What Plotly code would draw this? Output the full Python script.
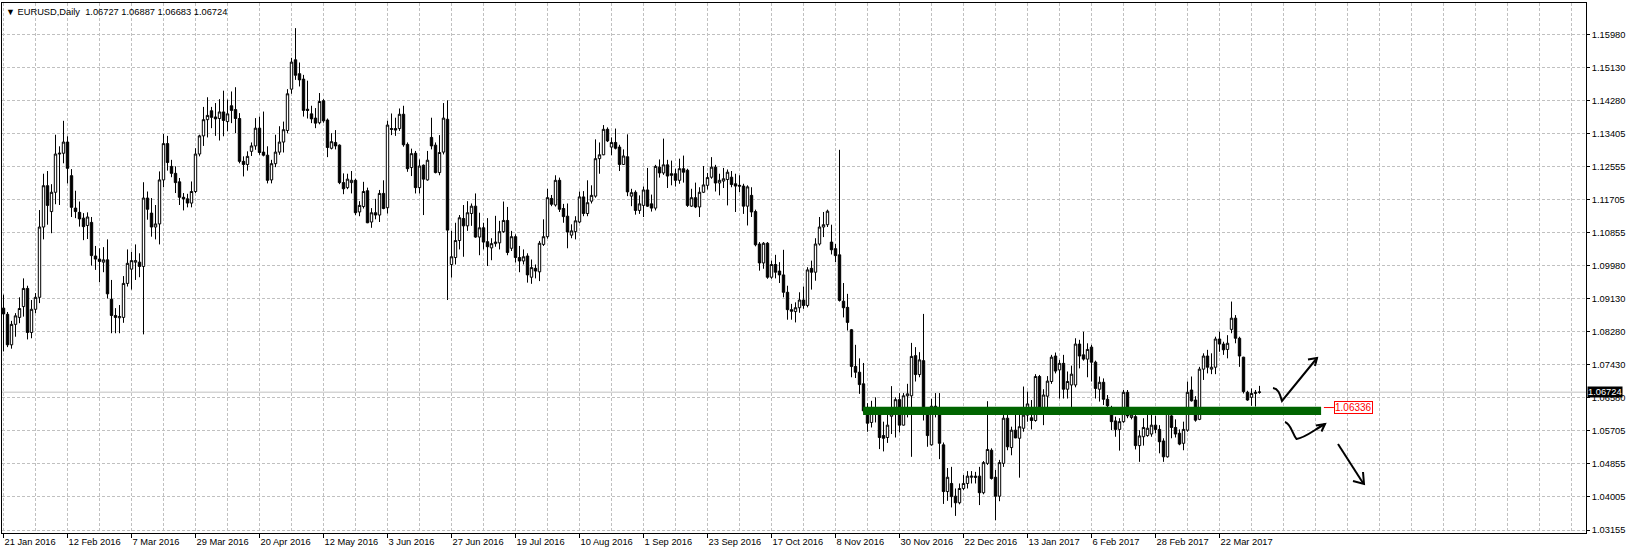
import plotly.graph_objects as go
import pandas as pd

# ---------------- data (EURUSD, Daily) ----------------
open_ = [
    1.0890, 1.0874, 1.0795, 1.0848, 1.0866, 1.0894, 1.0941, 1.0827, 1.0887, 1.0918,
    1.1100, 1.1207, 1.1140, 1.1190, 1.1289, 1.1291, 1.1320, 1.1233, 1.1149, 1.1138,
    1.1123, 1.1104, 1.1112, 1.1025, 1.1017, 1.1009, 1.1015, 1.0913, 1.0871, 1.0865,
    1.0866, 1.0954, 1.0991, 1.1009, 1.1009, 1.0998, 1.1175, 1.1136, 1.1100, 1.1108,
    1.1222, 1.1316, 1.1257, 1.1239, 1.1217, 1.1177, 1.1173, 1.1162, 1.1192, 1.1289,
    1.1336, 1.1378, 1.1401, 1.1385, 1.1381, 1.1398, 1.1373, 1.1414, 1.1404, 1.1381,
    1.1270, 1.1262, 1.1296, 1.1310, 1.1356, 1.1294, 1.1286, 1.1222, 1.1264, 1.1294,
    1.1320, 1.1350, 1.1457, 1.1533, 1.1497, 1.1483, 1.1405, 1.1393, 1.1382, 1.1370,
    1.1427, 1.1377, 1.1304, 1.1319, 1.1312, 1.1215, 1.1202, 1.1215, 1.1221, 1.1139,
    1.1153, 1.1194, 1.1113, 1.1137, 1.1131, 1.1187, 1.1150, 1.1355, 1.1355, 1.1355,
    1.1392, 1.1314, 1.1254, 1.1291, 1.1202, 1.1260, 1.1222, 1.1332, 1.1312, 1.1241,
    1.1294, 1.1379, 1.1003, 1.1021, 1.1065, 1.1122, 1.1103, 1.1135, 1.1154, 1.1074,
    1.1098, 1.1062, 1.1046, 1.1057, 1.1059, 1.1088, 1.1117, 1.1045, 1.1075, 1.1021,
    1.1012, 1.1025, 1.0970, 1.0993, 1.0984, 1.1055, 1.1075, 1.1174, 1.1157, 1.1221,
    1.1148, 1.1128, 1.1079, 1.1088, 1.1113, 1.1178, 1.1135, 1.1167, 1.1180, 1.1277,
    1.1287, 1.1353, 1.1307, 1.1319, 1.1307, 1.1262, 1.1282, 1.1180, 1.1190, 1.1143,
    1.1156, 1.1196, 1.1160, 1.1149, 1.1255, 1.1240, 1.1261, 1.1238, 1.1238, 1.1221,
    1.1251, 1.1247, 1.1154, 1.1176, 1.1152, 1.1190, 1.1208, 1.1229, 1.1255, 1.1214,
    1.1219, 1.1223, 1.1229, 1.1212, 1.1208, 1.1206, 1.1154, 1.1182, 1.1140, 1.1056,
    1.1007, 1.1058, 1.0970, 1.1003, 1.0986, 1.0976, 1.0931, 1.0886, 1.0881, 1.0891,
    1.0911, 1.0897, 1.0993, 1.0983, 1.1056, 1.1100, 1.1106, 1.1061, 1.1044, 1.1028,
    1.0908, 1.0892, 1.0834, 1.0739, 1.0724, 1.0694, 1.0629, 1.0594, 1.0629, 1.0629,
    1.0560, 1.0555, 1.0610, 1.0616, 1.0653, 1.0587, 1.0663, 1.0663, 1.0767, 1.0718,
    1.0754, 1.0616, 1.0536, 1.0636, 1.0629, 1.0536, 1.0415, 1.0436, 1.0403, 1.0386,
    1.0423, 1.0436, 1.0452, 1.0455, 1.0455, 1.0412, 1.0488, 1.0522, 1.0452, 1.0403,
    1.0488, 1.0605, 1.0529, 1.0574, 1.0553, 1.0579, 1.0613, 1.0606, 1.0599, 1.0713,
    1.0629, 1.0662, 1.0700, 1.0766, 1.0730, 1.0747, 1.0680, 1.0691, 1.0691, 1.0797,
    1.0769, 1.0758, 1.0789, 1.0750, 1.0680, 1.0698, 1.0654, 1.0630, 1.0598, 1.0576,
    1.0596, 1.0672, 1.0607, 1.0609, 1.0534, 1.0557, 1.0560, 1.0564, 1.0587, 1.0576,
    1.0546, 1.0505, 1.0611, 1.0581, 1.0566, 1.0540, 1.0574, 1.0678, 1.0652, 1.0602,
    1.0732, 1.0766, 1.0732, 1.0737, 1.0810, 1.0797, 1.0783, 1.0835, 1.0864, 1.0812,
    1.0763, 1.0672, 1.0659, 1.0669, 1.06727,
]
high = [
    1.0925, 1.0880, 1.0857, 1.0877, 1.0918, 1.0967, 1.0948, 1.0911, 1.0929, 1.1144,
    1.1238, 1.1245, 1.1211, 1.1339, 1.1309, 1.1375, 1.1335, 1.1250, 1.1194, 1.1166,
    1.1136, 1.1138, 1.1126, 1.1051, 1.1045, 1.1048, 1.1068, 1.0963, 1.0890, 1.0898,
    1.0973, 1.1042, 1.1036, 1.1055, 1.1032, 1.1216, 1.1192, 1.1175, 1.1157, 1.1244,
    1.1341, 1.1336, 1.1274, 1.1257, 1.1227, 1.1188, 1.1186, 1.1218, 1.1304, 1.1339,
    1.1411, 1.1436, 1.1411, 1.1421, 1.1431, 1.1453, 1.1430, 1.1451, 1.1462, 1.1395,
    1.1283, 1.1296, 1.1319, 1.1382, 1.1386, 1.1399, 1.1309, 1.1274, 1.1339, 1.1361,
    1.1373, 1.1457, 1.1538, 1.1615, 1.1526, 1.1494, 1.1479, 1.1414, 1.1408, 1.1447,
    1.1431, 1.1381, 1.1343, 1.1351, 1.1314, 1.1239, 1.1238, 1.1245, 1.1225, 1.1167,
    1.1217, 1.1202, 1.1149, 1.1173, 1.1196, 1.1221, 1.1375, 1.1394, 1.1383, 1.1407,
    1.1414, 1.1319, 1.1303, 1.1297, 1.1275, 1.1262, 1.1297, 1.1383, 1.1319, 1.1338,
    1.1421, 1.1428, 1.1090, 1.1111, 1.1131, 1.1157, 1.1167, 1.1161, 1.1187, 1.1137,
    1.1111, 1.1123, 1.1071, 1.1129, 1.1116, 1.1166, 1.1152, 1.1090, 1.1081, 1.1051,
    1.1042, 1.1032, 1.1016, 1.1003, 1.1064, 1.1120, 1.1199, 1.1183, 1.1234, 1.1228,
    1.1160, 1.1161, 1.1107, 1.1128, 1.1192, 1.1193, 1.1221, 1.1208, 1.1327, 1.1319,
    1.1364, 1.1358, 1.1332, 1.1355, 1.1313, 1.1301, 1.1340, 1.1199, 1.1195, 1.1182,
    1.1205, 1.1253, 1.1184, 1.1261, 1.1275, 1.1329, 1.1274, 1.1272, 1.1251, 1.1277,
    1.1285, 1.1251, 1.1199, 1.1215, 1.1203, 1.1258, 1.1240, 1.1281, 1.1261, 1.1238,
    1.1253, 1.1249, 1.1245, 1.1238, 1.1234, 1.1212, 1.1208, 1.1203, 1.1145, 1.1061,
    1.1061, 1.1061, 1.1013, 1.1028, 1.1009, 1.1041, 1.0948, 1.0901, 1.0905, 1.0931,
    1.0946, 1.0996, 1.1013, 1.1071, 1.1126, 1.1139, 1.1145, 1.1106, 1.1056, 1.1300,
    1.0955, 1.0927, 1.0836, 1.0795, 1.0760, 1.0748, 1.0644, 1.0650, 1.0659, 1.0632,
    1.0596, 1.0627, 1.0688, 1.0659, 1.0670, 1.0670, 1.0694, 1.0800, 1.0789, 1.0776,
    1.0875, 1.0629, 1.0655, 1.0670, 1.0670, 1.0542, 1.0476, 1.0479, 1.0423, 1.0436,
    1.0458, 1.0468, 1.0468, 1.0466, 1.0479, 1.0494, 1.0649, 1.0527, 1.0471, 1.0497,
    1.0615, 1.0617, 1.0583, 1.0626, 1.0622, 1.0687, 1.0674, 1.0652, 1.0719, 1.0717,
    1.0680, 1.0714, 1.0769, 1.0775, 1.0756, 1.0769, 1.0726, 1.0741, 1.0812, 1.0808,
    1.0829, 1.0799, 1.0795, 1.0754, 1.0713, 1.0708, 1.0665, 1.0637, 1.0609, 1.0605,
    1.0678, 1.0678, 1.0618, 1.0613, 1.0574, 1.0605, 1.0616, 1.0622, 1.0611, 1.0587,
    1.0553, 1.0622, 1.0618, 1.0602, 1.0576, 1.0596, 1.0700, 1.0713, 1.0662, 1.0738,
    1.0773, 1.0782, 1.0773, 1.0816, 1.0829, 1.0803, 1.0820, 1.0907, 1.0872, 1.0816,
    1.0764, 1.0676, 1.0682, 1.0678, 1.06887,
]
low = [
    1.0778, 1.0789, 1.0785, 1.0816, 1.0851, 1.0868, 1.0809, 1.0812, 1.0877, 1.0903,
    1.1068, 1.1106, 1.1084, 1.1159, 1.1157, 1.1265, 1.1213, 1.1126, 1.1123, 1.1101,
    1.1066, 1.1069, 1.1000, 1.0989, 1.0957, 1.0983, 1.0915, 1.0825, 1.0825, 1.0825,
    1.0852, 1.0946, 1.0938, 1.0963, 1.0970, 1.0822, 1.1119, 1.1075, 1.1068, 1.1055,
    1.1203, 1.1246, 1.1229, 1.1188, 1.1157, 1.1143, 1.1151, 1.1151, 1.1188, 1.1283,
    1.1310, 1.1332, 1.1356, 1.1336, 1.1324, 1.1335, 1.1348, 1.1369, 1.1343, 1.1265,
    1.1231, 1.1246, 1.1284, 1.1300, 1.1287, 1.1283, 1.1213, 1.1213, 1.1255, 1.1287,
    1.1293, 1.1343, 1.1445, 1.1481, 1.1464, 1.1386, 1.1381, 1.1369, 1.1356, 1.1366,
    1.1370, 1.1281, 1.1301, 1.1301, 1.1211, 1.1185, 1.1198, 1.1187, 1.1131, 1.1128,
    1.1148, 1.1110, 1.1098, 1.1120, 1.1113, 1.1146, 1.1135, 1.1338, 1.1336, 1.1349,
    1.1308, 1.1243, 1.1232, 1.1187, 1.1187, 1.1131, 1.1220, 1.1301, 1.1239, 1.1234,
    1.1288, 1.0911, 1.0969, 1.1003, 1.1042, 1.1023, 1.1090, 1.1103, 1.1072, 1.1027,
    1.1042, 1.0999, 1.1014, 1.1049, 1.1042, 1.1085, 1.1027, 1.1038, 1.1008, 1.0983,
    1.1003, 1.0956, 1.0953, 1.0967, 1.0960, 1.1051, 1.1070, 1.1154, 1.1153, 1.1139,
    1.1111, 1.1045, 1.1071, 1.1068, 1.1110, 1.1128, 1.1128, 1.1161, 1.1176, 1.1238,
    1.1286, 1.1320, 1.1286, 1.1301, 1.1245, 1.1261, 1.1180, 1.1154, 1.1132, 1.1134,
    1.1126, 1.1152, 1.1140, 1.1143, 1.1228, 1.1235, 1.1201, 1.1208, 1.1205, 1.1212,
    1.1215, 1.1152, 1.1152, 1.1149, 1.1126, 1.1188, 1.1197, 1.1225, 1.1192, 1.1182,
    1.1201, 1.1156, 1.1203, 1.1139, 1.1190, 1.1134, 1.1104, 1.1126, 1.1050, 1.0987,
    1.0992, 1.0966, 1.0966, 1.0967, 1.0955, 1.0918, 1.0860, 1.0860, 1.0853, 1.0878,
    1.0888, 1.0892, 1.0938, 1.0961, 1.1052, 1.1074, 1.1100, 1.1029, 1.1009, 1.0907,
    1.0866, 1.0832, 1.0711, 1.0709, 1.0668, 1.0618, 1.0570, 1.0581, 1.0594, 1.0525,
    1.0519, 1.0541, 1.0564, 1.0555, 1.0568, 1.0586, 1.0607, 1.0505, 1.0700, 1.0711,
    1.0599, 1.0531, 1.0534, 1.0607, 1.0499, 1.0383, 1.0391, 1.0374, 1.0352, 1.0382,
    1.0419, 1.0423, 1.0436, 1.0436, 1.0380, 1.0408, 1.0484, 1.0446, 1.0341, 1.0390,
    1.0479, 1.0522, 1.0509, 1.0553, 1.0451, 1.0570, 1.0596, 1.0576, 1.0596, 1.0626,
    1.0587, 1.0626, 1.0694, 1.0721, 1.0656, 1.0656, 1.0656, 1.0619, 1.0685, 1.0734,
    1.0754, 1.0711, 1.0700, 1.0656, 1.0648, 1.0639, 1.0633, 1.0574, 1.0557, 1.0521,
    1.0593, 1.0605, 1.0602, 1.0524, 1.0492, 1.0534, 1.0557, 1.0557, 1.0566, 1.0514,
    1.0492, 1.0503, 1.0553, 1.0555, 1.0535, 1.0522, 1.0570, 1.0648, 1.0596, 1.0600,
    1.0704, 1.0721, 1.0719, 1.0719, 1.0777, 1.0769, 1.0760, 1.0825, 1.0799, 1.0738,
    1.0669, 1.0650, 1.0637, 1.0635, 1.06683,
]
close = [
    1.0875, 1.0795, 1.0848, 1.0870, 1.0889, 1.0941, 1.0827, 1.0887, 1.0918, 1.1100,
    1.1207, 1.1156, 1.1190, 1.1289, 1.1291, 1.1320, 1.1252, 1.1151, 1.1140, 1.1121,
    1.1101, 1.1126, 1.1026, 1.1017, 1.1011, 1.1015, 1.0927, 1.0871, 1.0866, 1.0868,
    1.0954, 1.1006, 1.1013, 1.1013, 1.0998, 1.1175, 1.1146, 1.1100, 1.1108, 1.1222,
    1.1316, 1.1267, 1.1239, 1.1215, 1.1177, 1.1173, 1.1162, 1.1192, 1.1289, 1.1336,
    1.1378, 1.1389, 1.1384, 1.1380, 1.1398, 1.1376, 1.1393, 1.1402, 1.1381, 1.1270,
    1.1262, 1.1283, 1.1310, 1.1356, 1.1293, 1.1286, 1.1221, 1.1264, 1.1294, 1.1320,
    1.1352, 1.1445, 1.1527, 1.1493, 1.1481, 1.1402, 1.1402, 1.1380, 1.1369, 1.1425,
    1.1375, 1.1306, 1.1321, 1.1310, 1.1215, 1.1199, 1.1224, 1.1221, 1.1137, 1.1156,
    1.1192, 1.1111, 1.1137, 1.1131, 1.1187, 1.1148, 1.1364, 1.1353, 1.1351, 1.1392,
    1.1313, 1.1251, 1.1290, 1.1202, 1.1258, 1.1224, 1.1273, 1.1310, 1.1241, 1.1293,
    1.1382, 1.1092, 1.1023, 1.1065, 1.1124, 1.1103, 1.1137, 1.1154, 1.1074, 1.1098,
    1.1061, 1.1049, 1.1057, 1.1061, 1.1088, 1.1117, 1.1034, 1.1075, 1.1021, 1.1012,
    1.1023, 1.0976, 1.0995, 1.0986, 1.1058, 1.1075, 1.1176, 1.1159, 1.1221, 1.1146,
    1.1127, 1.1087, 1.1090, 1.1116, 1.1178, 1.1135, 1.1163, 1.1182, 1.1277, 1.1287,
    1.1353, 1.1323, 1.1319, 1.1304, 1.1262, 1.1284, 1.1191, 1.1189, 1.1143, 1.1160,
    1.1196, 1.1154, 1.1149, 1.1257, 1.1240, 1.1261, 1.1232, 1.1234, 1.1221, 1.1251,
    1.1242, 1.1156, 1.1176, 1.1152, 1.1190, 1.1209, 1.1228, 1.1255, 1.1214, 1.1221,
    1.1225, 1.1242, 1.1210, 1.1206, 1.1206, 1.1154, 1.1204, 1.1139, 1.1054, 1.1007,
    1.1058, 1.0970, 1.1003, 1.0983, 1.0976, 1.0931, 1.0886, 1.0882, 1.0891, 1.0911,
    1.0897, 1.0989, 1.0983, 1.1056, 1.1100, 1.1106, 1.1141, 1.1041, 1.1026, 1.0910,
    1.0891, 1.0853, 1.0739, 1.0724, 1.0692, 1.0624, 1.0592, 1.0627, 1.0627, 1.0555,
    1.0553, 1.0587, 1.0616, 1.0653, 1.0587, 1.0663, 1.0668, 1.0765, 1.0718, 1.0756,
    1.0616, 1.0560, 1.0636, 1.0627, 1.0540, 1.0415, 1.0452, 1.0402, 1.0386, 1.0423,
    1.0436, 1.0455, 1.0455, 1.0452, 1.0412, 1.0490, 1.0524, 1.0449, 1.0403, 1.0490,
    1.0605, 1.0531, 1.0574, 1.0554, 1.0583, 1.0613, 1.0642, 1.0599, 1.0713, 1.0628,
    1.0665, 1.0701, 1.0763, 1.0727, 1.0747, 1.0680, 1.0700, 1.0719, 1.0797, 1.0766,
    1.0758, 1.0783, 1.0750, 1.0682, 1.0698, 1.0654, 1.0637, 1.0596, 1.0576, 1.0596,
    1.0672, 1.0611, 1.0613, 1.0534, 1.0559, 1.0581, 1.0579, 1.0587, 1.0576, 1.0544,
    1.0505, 1.0619, 1.0581, 1.0564, 1.0538, 1.0576, 1.0672, 1.0650, 1.0600, 1.0732,
    1.0766, 1.0737, 1.0737, 1.0810, 1.0797, 1.0782, 1.0799, 1.0864, 1.0812, 1.0766,
    1.0674, 1.0652, 1.0669, 1.0672, 1.06724,
]

dates = pd.bdate_range("2016-01-21", periods=len(close))
bar_index = list(range(len(close)))

date_tick_labels = [
    "21 Jan 2016", "12 Feb 2016", "7 Mar 2016", "29 Mar 2016", "20 Apr 2016",
    "12 May 2016", "3 Jun 2016", "27 Jun 2016", "19 Jul 2016", "10 Aug 2016",
    "1 Sep 2016", "23 Sep 2016", "17 Oct 2016", "8 Nov 2016", "30 Nov 2016",
    "22 Dec 2016", "13 Jan 2017", "6 Feb 2017", "28 Feb 2017", "22 Mar 2017",
]
date_tick_every = 16

price_tick_labels = [
    "1.03155", "1.04005", "1.04855", "1.05705", "1.06580", "1.07430", "1.08280", "1.09130",
    "1.09980", "1.10855", "1.11705", "1.12555", "1.13405", "1.14280", "1.15130", "1.15980",
]
price_grid_base = 1.03155
price_grid_step = 0.00855

support_level = 1.06336
symbol_title = "EURUSD,Daily"

# ---------------- figure ----------------
W, H = 1629, 554
ML, MR, MT, MB = 2, 43, 3, 21
PLOT_W = W - ML - MR
PLOT_H = H - MT - MB
PX_PER_BAR = 4
x_lo = -0.375
x_hi = x_lo + PLOT_W / PX_PER_BAR
PX_PER_PRICE = 33.02 / price_grid_step
y_lo = price_grid_base - 3.0 / PX_PER_PRICE
y_hi = y_lo + PLOT_H / PX_PER_PRICE

FONT = "Liberation Sans, Arial, sans-serif"
GRID = "#c0c0c0"
DASH = "3px,2px"

fig = go.Figure()
fig.add_trace(go.Candlestick(
    x=bar_index, open=open_, high=high, low=low, close=close,
    text=[d.strftime("%d %b %Y") for d in dates],
    increasing=dict(line=dict(color="black", width=1), fillcolor="white"),
    decreasing=dict(line=dict(color="black", width=1), fillcolor="black"),
    whiskerwidth=0, showlegend=False, hoverinfo="skip",
))

tickvals_x = [k * date_tick_every for k in range(len(date_tick_labels))]
tickvals_y = [price_grid_base + k * price_grid_step for k in range(len(price_tick_labels))]


def px(x, y):
    """pixel position inside the figure -> paper coordinates"""
    return "%.5f,%.5f" % ((x - ML) / PLOT_W, (H - MB - y) / PLOT_H)


def path(points):
    s = ""
    for i, (x, y) in enumerate(points):
        s += ("M" if i == 0 else "L") + px(x, y) + " "
    return s.strip()


shapes = []
# current bid line
shapes.append(dict(type="line", xref="paper", yref="y", x0=0, x1=1,
                   y0=close[-1], y1=close[-1],
                   line=dict(color="#c0c0c0", width=1), layer="below"))
# support band
shapes.append(dict(type="rect", xref="x", yref="y", x0=214.9, x1=329.4,
                   y0=support_level - 0.00205, y1=support_level + 0.0001,
                   fillcolor="#006400", line=dict(width=0), layer="above"))
# red connector to price label
shapes.append(dict(type="line", xref="x", yref="y", x0=330.1, x1=332.6,
                   y0=support_level - 0.0001, y1=support_level - 0.0001,
                   line=dict(color="#ff0000", width=1), layer="above"))

arrow_style = dict(color="black", width=2)
# hand drawn arrows (pixel sketches)
arrow_paths = [
    "M" + px(1273, 388) + " C" + px(1279, 389) + " " + px(1280, 395) + " " + px(1282, 401) + " L" + px(1317, 358),
    path([(1308, 359.5), (1317, 358), (1315, 366)]),
    "M" + px(1285, 422) + " C" + px(1291, 424) + " " + px(1292, 433) + " " + px(1296.5, 439)
    + " C" + px(1305, 438) + " " + px(1314, 430) + " " + px(1325, 424),
    path([(1316, 425.5), (1325, 424), (1321.5, 431.5)]),
    path([(1338, 444), (1363, 483)]),
    path([(1363, 472), (1364, 484), (1353, 481)]),
]
for p in arrow_paths:
    shapes.append(dict(type="path", xref="paper", yref="paper", path=p,
                       line=arrow_style, layer="above"))

annotations = [
    dict(xref="paper", yref="paper", x=(4 - ML) / PLOT_W, y=1, xanchor="left", yanchor="top",
         yshift=-2, showarrow=False, align="left",
         text="<span style='font-size:9px'>\u25bc</span>\u00a0" + symbol_title + "\u00a0\u00a0"
              + " ".join("%.5f" % v for v in (open_[-1], high[-1], low[-1], close[-1])),
         font=dict(family=FONT, size=9.3, color="black")),
    dict(xref="paper", yref="y", x=1, y=close[-1], xanchor="left", yanchor="middle",
         xshift=1, showarrow=False, text="%.5f" % close[-1], bgcolor="black",
         borderpad=0, font=dict(family=FONT, size=9.3, color="white")),
    dict(xref="x", yref="y", x=332.6, y=support_level, xanchor="left", yanchor="middle",
         showarrow=False, text="%.5f" % support_level, bgcolor="white",
         bordercolor="#ff0000", borderwidth=1, borderpad=0,
         font=dict(family=FONT, size=10, color="#ff0000")),
]

fig.update_layout(
    width=W, height=H,
    margin=dict(l=ML, r=MR, t=MT, b=MB, pad=0),
    paper_bgcolor="white", plot_bgcolor="white",
    boxgap=0.4, boxgroupgap=0,
    showlegend=False,
    font=dict(family=FONT, size=9.3, color="black"),
    shapes=shapes, annotations=annotations,
    xaxis=dict(
        range=[x_lo, x_hi], tickmode="array", tickvals=tickvals_x, ticktext=date_tick_labels,
        ticks="outside", ticklen=4, tickwidth=1, tickcolor="black",
        ticklabelposition="outside right",
        showgrid=True, gridcolor=GRID, griddash=DASH, gridwidth=1,
        minor=dict(tick0=0, dtick=8, showgrid=True, gridcolor=GRID, griddash=DASH,
                   gridwidth=1, ticks=""),
        showline=True, linecolor="black", linewidth=1, mirror=True,
        zeroline=False, rangeslider=dict(visible=False), fixedrange=True,
        tickfont=dict(family=FONT, size=9.3, color="black"),
    ),
    yaxis=dict(
        range=[y_lo, y_hi], tickmode="array", tickvals=tickvals_y, ticktext=price_tick_labels,
        side="right", ticks="outside", ticklen=3, tickwidth=1, tickcolor="black",
        showgrid=True, gridcolor=GRID, griddash=DASH, gridwidth=1,
        showline=True, linecolor="black", linewidth=1, mirror=True,
        zeroline=False, fixedrange=True,
        tickfont=dict(family=FONT, size=9.3, color="black"),
    ),
)

fig.write_html(
    "out.html",
    config={"displayModeBar": False, "staticPlot": True},
    post_script="document.body.style.margin='0px';document.body.style.overflow='hidden';",
)
